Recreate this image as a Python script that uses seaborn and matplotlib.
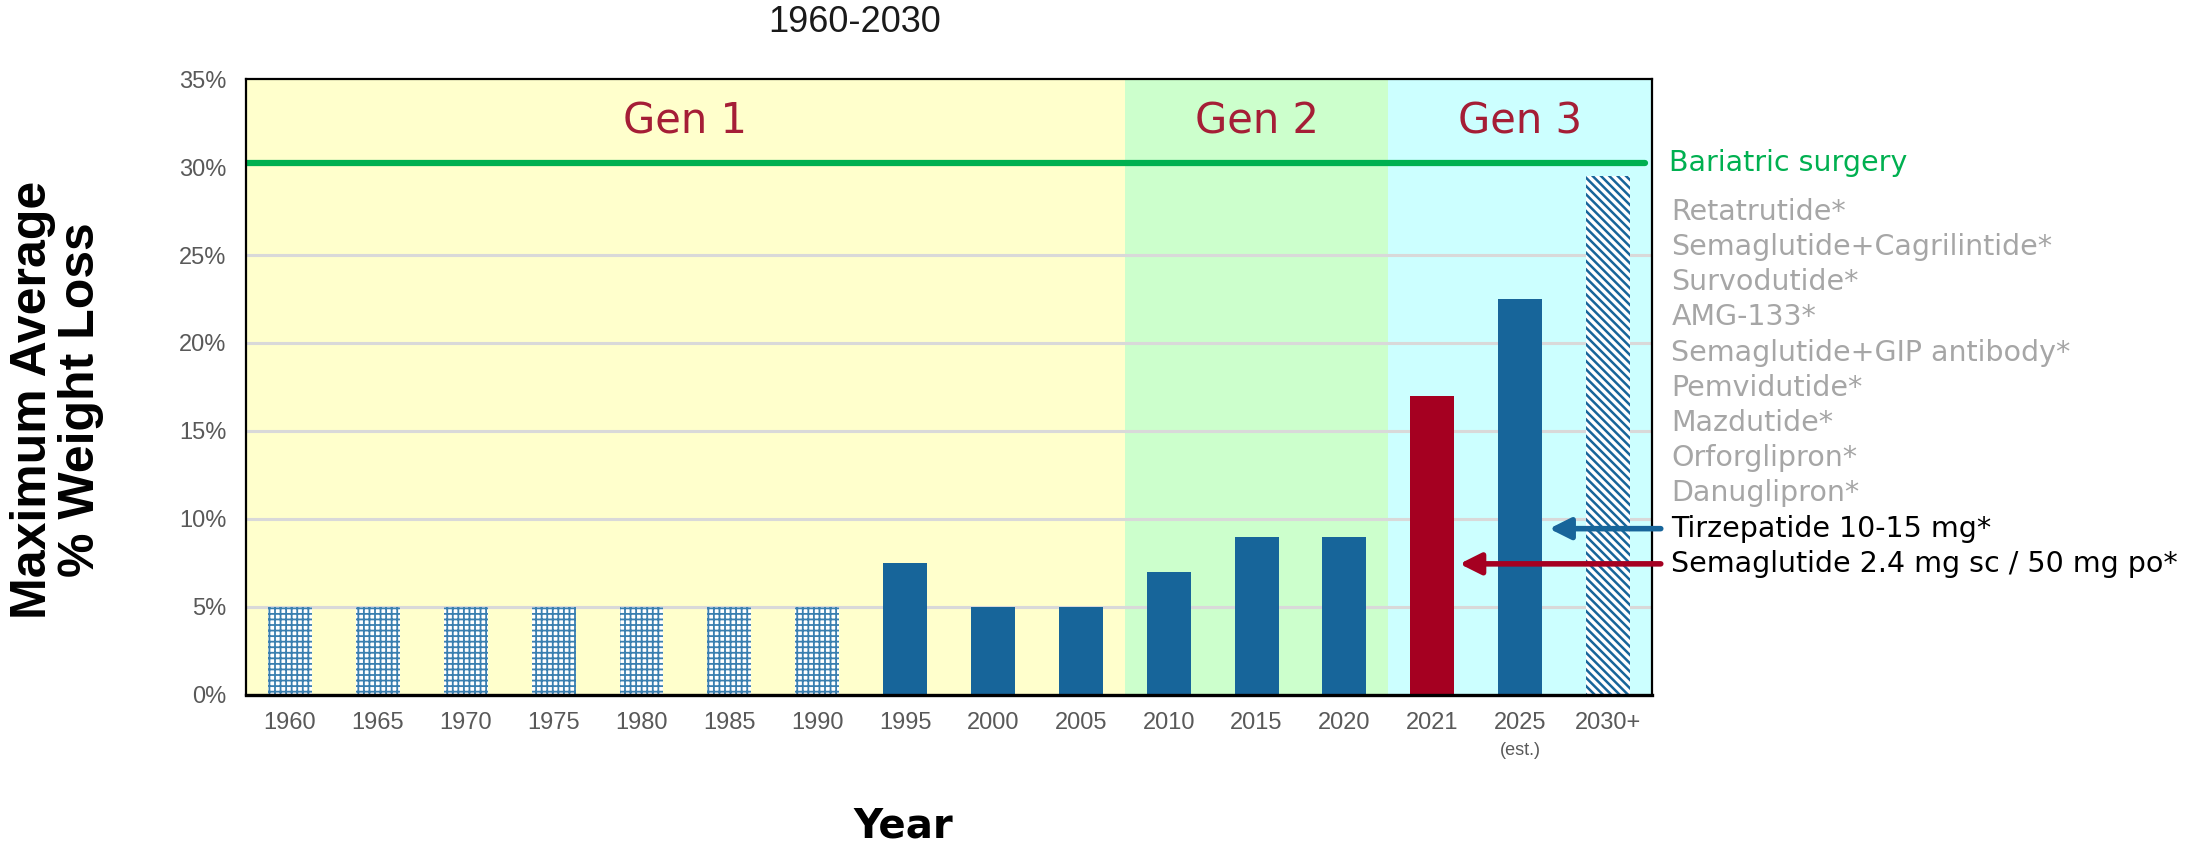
import matplotlib
matplotlib.use("Agg")
import matplotlib.pyplot as plt
import seaborn as sns

# data
years = ['1960', '1965', '1970', '1975', '1980', '1985', '1990', '1995',
         '2000', '2005', '2010', '2015', '2020', '2021', '2025', '2030+']
weight_loss = [5, 5, 5, 5, 5, 5, 5, 7.5, 5, 5, 7, 9, 9, 17, 22.5, 29.5]
bar_kind = ['grid'] * 7 + ['solid'] * 6 + ['sema', 'solid', 'future']

gen_names = ['Gen 1', 'Gen 2', 'Gen 3']
gen_bounds = [(-0.5, 9.5), (9.5, 12.5), (12.5, 15.5)]
gen_colors = ['#FFFFCC', '#CCFFCC', '#CCFFFF']

bariatric = 30.2
pipeline_drugs = ['Retatrutide*', 'Semaglutide+Cagrilintide*', 'Survodutide*',
                  'AMG-133*', 'Semaglutide+GIP antibody*', 'Pemvidutide*',
                  'Mazdutide*', 'Orforglipron*', 'Danuglipron*']
approved_drugs = ['Tirzepatide 10-15 mg*', 'Semaglutide 2.4 mg sc / 50 mg po*']

blue = '#17659A'
red = '#A50021'
green = '#00B050'
gen_red = '#A51E36'
grey_txt = '#A6A6A6'
tick_grey = '#595959'

sns.set_style('white')
plt.rcParams['font.family'] = ['Liberation Sans', 'DejaVu Sans']
plt.rcParams['hatch.linewidth'] = 1.8
plt.rcParams['text.color'] = 'black'

fig = plt.figure(figsize=(22.05, 8.47), dpi=100)
ax = fig.add_axes([0.1116, 0.1795, 0.6376, 0.7272])

palette = {'grid': 'white', 'solid': blue, 'sema': red, 'future': 'white'}
sns.barplot(x=years, y=weight_loss, hue=years,
            palette=[palette[k] for k in bar_kind],
            width=0.5, saturation=1, legend=False, ax=ax)

bars = [b for c in ax.containers for b in c]
for p, k in zip(bars, bar_kind):
    p.set_zorder(2)
    p.set_linewidth(0)
    if k == 'grid':
        p.set_edgecolor('#3A7FB0')
        p.set_hatch('+++')
        if hasattr(p, 'set_hatch_linewidth'):
            p.set_hatch_linewidth(1.3)
    elif k == 'future':
        p.set_edgecolor(blue)
        p.set_hatch('\\\\\\\\')

# generation backgrounds
for (x0, x1), c in zip(gen_bounds, gen_colors):
    ax.axvspan(x0, x1, color=c, zorder=0, lw=0)

for y in range(5, 30, 5):
    ax.axhline(y, color='#D9D9D9', lw=2.2, zorder=0.5)

ax.axhline(bariatric, color=green, lw=4.5, zorder=3, xmax=0.995)

ax.set_xlim(-0.5, 15.5)
ax.set_ylim(0, 35)
ax.set_yticks(range(0, 40, 5))
ax.set_yticklabels([f'{v}%' for v in range(0, 40, 5)])
ax.tick_params(axis='both', length=0, labelsize=17, labelcolor=tick_grey)
ax.tick_params(axis='y', pad=14)
ax.tick_params(axis='x', pad=12)
ax.set_xlabel('')
ax.set_ylabel('')

for s in ax.spines.values():
    s.set_visible(True)
    s.set_color('black')
    s.set_linewidth(1.6)
    s.set_zorder(4)
ax.spines['bottom'].set_linewidth(2.4)

ax.annotate('(est.)', xy=(14, 0), xycoords=ax.get_xaxis_transform(),
            xytext=(0, -40), textcoords='offset points',
            ha='center', va='center', fontsize=13, color=tick_grey)

# generation labels
for name, (x0, x1) in zip(gen_names, gen_bounds):
    ax.text((x0 + x1) / 2, 32.6, name, ha='center', va='center',
            fontsize=30, color=gen_red, family='DejaVu Sans', zorder=5)

# right side annotations
tx = 15.72
ax.text(tx - 0.03, bariatric, 'Bariatric surgery', color=green, fontsize=20.5,
        family='DejaVu Sans', va='center', ha='left', clip_on=False)
labels = pipeline_drugs + approved_drugs
for i, lab in enumerate(labels):
    c = grey_txt if lab in pipeline_drugs else 'black'
    ax.text(tx, 27.45 - 2 * i, lab, color=c, fontsize=20.5,
            family='DejaVu Sans', va='center', ha='left', clip_on=False)

arrow_y = {approved_drugs[0]: 27.45 - 2 * 9, approved_drugs[1]: 27.45 - 2 * 10}
for lab, target, col in [(approved_drugs[0], 14.33, blue),
                         (approved_drugs[1], 13.31, red)]:
    ax.annotate('', xy=(target, arrow_y[lab]), xytext=(15.6, arrow_y[lab]),
                arrowprops=dict(arrowstyle='-|>', color=col, lw=4,
                                mutation_scale=32, shrinkA=0, shrinkB=0),
                annotation_clip=False, zorder=6)

fig.text(855 / 2205, 1 - 22 / 847, '1960-2030', ha='center', va='center',
         fontsize=26, color='#1A1A1A')
fig.text(57 / 2205, 1 - 400 / 847, 'Maximum Average\n% Weight Loss',
         rotation=90, ha='center', va='center', ma='center',
         fontsize=36, fontweight='bold', linespacing=1.05)
fig.text(903 / 2205, 1 - 826 / 847, 'Year', ha='center', va='center',
         fontsize=29, fontweight='bold', family='DejaVu Sans')

fig.savefig('out.png', dpi=100)
